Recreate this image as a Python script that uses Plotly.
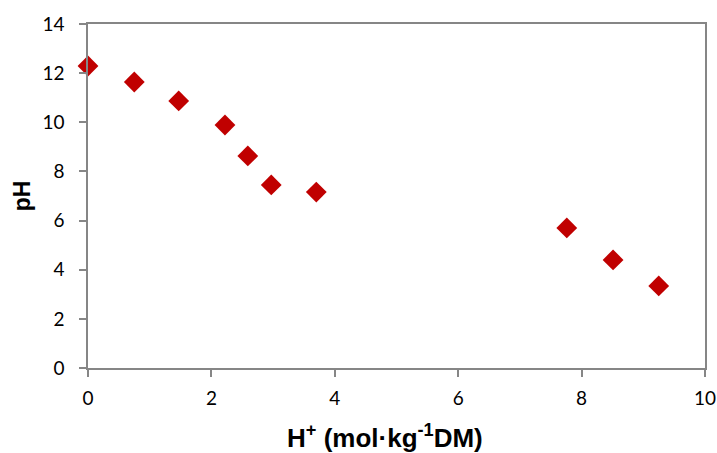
import plotly.graph_objects as go

h_plus = [0.0, 0.75, 1.47, 2.22, 2.59, 2.97, 3.70, 7.76, 8.51, 9.25]
ph = [12.29, 11.64, 10.87, 9.89, 8.63, 7.45, 7.16, 5.70, 4.40, 3.34]
x_ticks = [0, 2, 4, 6, 8, 10]
y_ticks = [0, 2, 4, 6, 8, 10, 12, 14]

axis_color = "#868686"
tick_font = "Lato, 'Open Sans', sans-serif"
title_font = "Liberation Sans, Arial, sans-serif"

fig = go.Figure(go.Scatter(
    x=h_plus, y=ph, mode="markers",
    marker=dict(symbol="diamond", size=16, color="#C00000", line=dict(width=0)),
    cliponaxis=False, showlegend=False,
))

fig.update_layout(
    width=717, height=453,
    margin=dict(l=88, r=12, t=24, b=85),
    paper_bgcolor="white", plot_bgcolor="white",
    font=dict(family=tick_font, size=19, color="#000000"),
    annotations=[dict(
        text="<b>H<sup>+</sup> (mol·kg<sup>-1</sup>DM)</b>",
        xref="paper", yref="paper", x=0.482, y=-0.20,
        xanchor="center", yanchor="middle", showarrow=False,
        font=dict(family=title_font, size=26, color="#000000"),
    )],
)
fig.update_xaxes(
    range=[0, 10], tickvals=x_ticks, ticktext=[str(v) for v in x_ticks],
    showgrid=False, zeroline=False, showline=True, linecolor=axis_color, linewidth=1.5,
    mirror=True, ticks="outside", ticklen=7, tickcolor=axis_color, tickwidth=1.5,
    ticklabelstandoff=5, ticklabeloverflow="allow", automargin=False,
)
fig.update_yaxes(
    range=[0, 14], tickvals=y_ticks, ticktext=[str(v) for v in y_ticks],
    showgrid=False, zeroline=False, showline=True, linecolor=axis_color, linewidth=1.5,
    mirror=True, ticks="outside", ticklen=7, tickcolor=axis_color, tickwidth=1.5,
    ticklabelstandoff=11, ticklabeloverflow="allow", automargin=False,
    title=dict(text="<b>pH</b>", font=dict(family=title_font, size=23), standoff=5),
)

fig.write_html("out.html", config={"displayModeBar": False},
               post_script="document.body.style.margin='0';")
